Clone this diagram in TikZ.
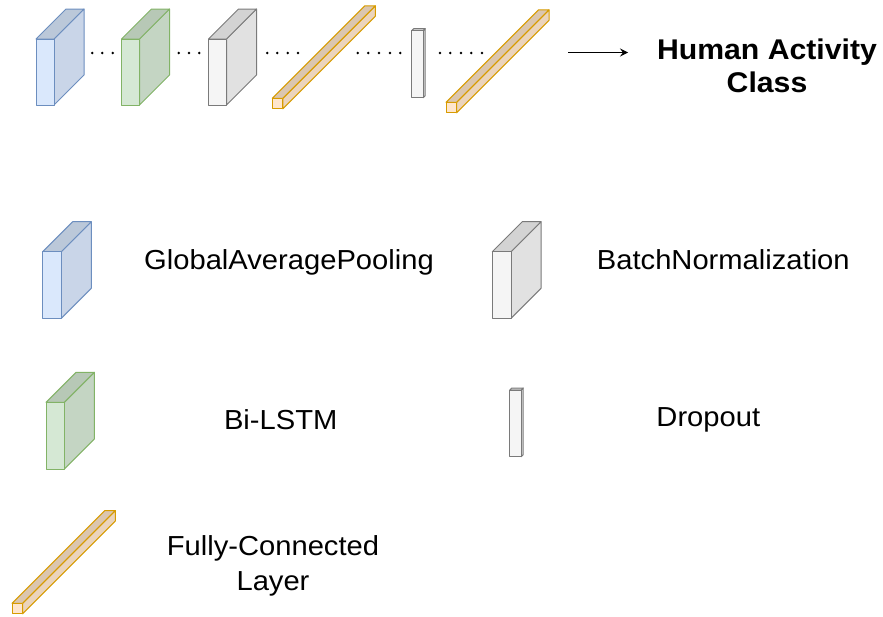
\documentclass[tikz,border=0pt]{standalone}
\usepackage{fontspec}
\setmainfont{Liberation Sans}[FakeStretch=1.06]
\usetikzlibrary{arrows.meta}

% layer colours
\definecolor{poolfill}{HTML}{DAE8FC}\definecolor{pooldraw}{HTML}{6C8EBF}
\definecolor{lstmfill}{HTML}{D5E8D4}\definecolor{lstmdraw}{HTML}{82B366}
\definecolor{normfill}{HTML}{F5F5F5}\definecolor{normdraw}{HTML}{7A7A7A}
\definecolor{densefill}{HTML}{FFE6CC}\definecolor{densedraw}{HTML}{D79B00}

% 3-D layer block: #1 x, #2 top of front face, #3 width, #4 height, #5 depth, #6 colour prefix
\newcommand\layerbox[6]{%
  \filldraw[draw=#6draw, fill=#6fill!92!black, line join=round]
    (#1+#3,#2) -- ++(#5,-#5) -- ++(0,#4) -- ++(-#5,#5) -- cycle;
  \filldraw[draw=#6draw, fill=#6fill!86!black, line join=round]
    (#1,#2) -- ++(#5,-#5) -- ++(#3,0) -- ++(-#5,#5) -- cycle;
  \filldraw[draw=#6draw, fill=#6fill, line join=round]
    (#1,#2) rectangle ++(#3,#4);
}

\tikzset{
  label/.style={anchor=base, inner sep=0pt, align=center,
    font=\fontsize{27.5}{34.8}\selectfont},
  title/.style={label, font=\fontsize{28.5}{33.5}\selectfont\bfseries},
  dotmark/.style={fill=black},
}

\begin{document}
\begin{tikzpicture}[x=1pt, y=-1pt, line width=1pt]
\useasboundingbox (0,0) rectangle (883,616);

% network pipeline
\layerbox{36}{39}{18}{66}{30}{pool}
\layerbox{121.5}{39}{18}{66}{30}{lstm}
\layerbox{208.5}{39}{18}{66}{30}{norm}
\layerbox{272.3}{98.3}{10.5}{10.5}{92.5}{dense}
\layerbox{411.7}{30.7}{11.5}{67}{2}{norm}
\layerbox{446}{102.3}{10.5}{10.5}{92.5}{dense}

% dotted gaps between layers
\foreach \x in {92.3,102.3,112.7, 178.7,189,199.3,
                267.3,277.3,287.7,298,
                357.7,368.3,379,390,400.3,
                440,450.3,461,471.3,482}
  \fill[dotmark] (\x,53) circle[radius=1.4pt];

% output (base anchor sits on the last line)
\node[title] (hac) at (767,92.8) {Human Activity\\Class};
\coordinate (arrtail) at (568,52.5);
\coordinate (arrtip) at (628,52.5);
\draw[-{Stealth[length=8pt,width=8pt,inset=3pt]}] (arrtail) -- (arrtip);

% legend
\layerbox{42.7}{251.7}{18.6}{66.6}{30}{pool}
\node[label] (gap) at (289,269) {GlobalAveragePooling};

\layerbox{492.3}{251.7}{18.7}{66.6}{30}{norm}
\node[label] (bn) at (723.3,269) {BatchNormalization};

\layerbox{46}{402.3}{18.3}{66.7}{30}{lstm}
\node[label] (bilstm) at (280.7,429.3) {Bi-LSTM};

\layerbox{509.7}{390}{11.5}{66.7}{2}{norm}
\node[label] (drop) at (708.3,426.7) {Dropout};

\layerbox{12}{603.3}{10.5}{10.5}{92.8}{dense}
\node[label] (fc) at (273,590) {Fully-Connected\\Layer};
\end{tikzpicture}
\end{document}
